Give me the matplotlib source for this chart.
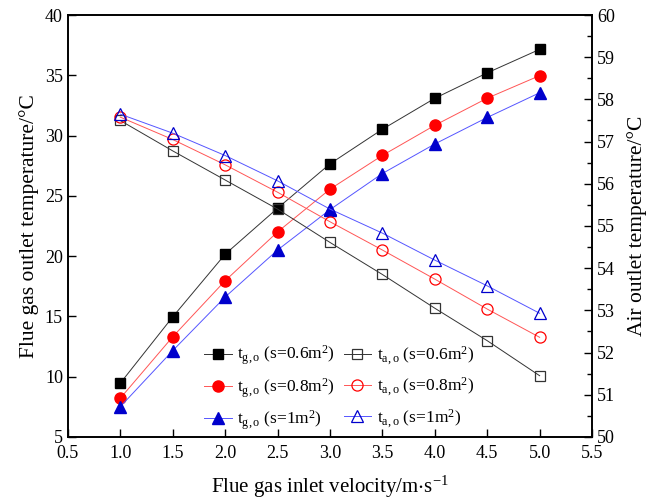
import numpy as np
import matplotlib.pyplot as plt
from matplotlib.ticker import MultipleLocator

plt.rcParams['font.family'] = ['Liberation Serif', 'DejaVu Serif']
plt.rcParams['mathtext.fontset'] = 'stix'

# Flue gas inlet velocity (m/s)
velocity = [1.0, 1.5, 2.0, 2.5, 3.0, 3.5, 4.0, 4.5, 5.0]
xticks = [0.5, 1.0, 1.5, 2.0, 2.5, 3.0, 3.5, 4.0, 4.5, 5.0, 5.5]

# Flue gas outlet temperature (left axis)
tg_06 = [9.45, 14.95, 20.15, 23.97, 27.65, 30.52, 33.09, 35.2, 37.15]
tg_08 = [8.2, 13.3, 17.95, 22.0, 25.55, 28.35, 30.85, 33.1, 34.97]
tg_10 = [7.5, 12.15, 16.6, 20.5, 23.85, 26.85, 29.3, 31.5, 33.55]

# Air outlet temperature (right axis)
ta_06 = [57.5, 56.78, 56.09, 55.4, 54.61, 53.85, 53.05, 52.28, 51.45]
ta_08 = [57.58, 57.05, 56.45, 55.8, 55.1, 54.43, 53.74, 53.03, 52.36]
ta_10 = [57.65, 57.2, 56.67, 56.07, 55.4, 54.83, 54.19, 53.58, 52.93]

fig = plt.figure(figsize=(6.46, 5.01), dpi=100)
ax = fig.add_axes([0.105, 0.128, 0.8115, 0.842])
ax2 = ax.twinx()

lw = 0.7
ms = 7
h1, = ax.plot(velocity, tg_06, '-s', color='#333333', lw=lw, ms=ms, mfc='black', mec='black',
              label=r'$\mathregular{t_{g,o}}$ (s=0.6m$\mathregular{^2}$)')
h2, = ax.plot(velocity, tg_08, '-o', color='#ff5555', lw=lw, ms=ms + 1, mfc='red', mec='red',
              label=r'$\mathregular{t_{g,o}}$ (s=0.8m$\mathregular{^2}$)')
h3, = ax.plot(velocity, tg_10, '-^', color='#5555ff', lw=lw, ms=ms + 1, mfc='#0000cc', mec='#0000cc',
              label=r'$\mathregular{t_{g,o}}$ (s=1m$\mathregular{^2}$)')
h4, = ax2.plot(velocity, ta_06, '-s', color='#333333', lw=lw, ms=ms, mfc='none', mec='#333333',
               mew=0.9, label=r'$\mathregular{t_{a,o}}$ (s=0.6m$\mathregular{^2}$)')
h5, = ax2.plot(velocity, ta_08, '-o', color='#ff5555', lw=lw, ms=ms + 1, mfc='none', mec='red',
               mew=0.9, label=r'$\mathregular{t_{a,o}}$ (s=0.8m$\mathregular{^2}$)')
h6, = ax2.plot(velocity, ta_10, '-^', color='#5555ff', lw=lw, ms=ms + 1, mfc='none', mec='#0000cc',
               mew=0.9, label=r'$\mathregular{t_{a,o}}$ (s=1m$\mathregular{^2}$)')

ax.set_xlim(0.5, 5.5)
ax.set_ylim(5, 40)
ax2.set_ylim(50, 60)

ax.set_xticks(xticks)
ax.set_xticklabels([f'{v:.1f}' for v in xticks])
ax.yaxis.set_major_locator(MultipleLocator(5))
ax2.yaxis.set_major_locator(MultipleLocator(1))
ax2.yaxis.set_minor_locator(MultipleLocator(0.5))

ax.tick_params(axis='both', direction='in', length=6, width=1, labelsize=13)
ax.tick_params(axis='x', pad=6)
ax.tick_params(axis='y', right=False)
ax2.tick_params(axis='y', which='major', direction='in', length=6, width=1, labelsize=13)
ax2.tick_params(axis='y', which='minor', direction='in', length=3.5, width=1)

for a in (ax, ax2):
    for s in a.spines.values():
        s.set_linewidth(1.2)

ax.set_xlabel(r'Flue gas inlet velocity/m$\cdot$s$\mathregular{^{-1}}$', fontsize=15, labelpad=8)
ax.set_ylabel('Flue gas outlet temperature/°C', fontsize=15.5, labelpad=4)
ax2.set_ylabel('Air outlet temperature/°C', fontsize=15.5, labelpad=9)

ax.legend(handles=[h1, h2, h3, h4, h5, h6], ncol=2, frameon=False, fontsize=12.5,
          loc='lower left', bbox_to_anchor=(0.23, -0.025), handlelength=1.6,
          handletextpad=0.3, columnspacing=0.5, labelspacing=0.5)

fig.savefig('out.png', dpi=100)
